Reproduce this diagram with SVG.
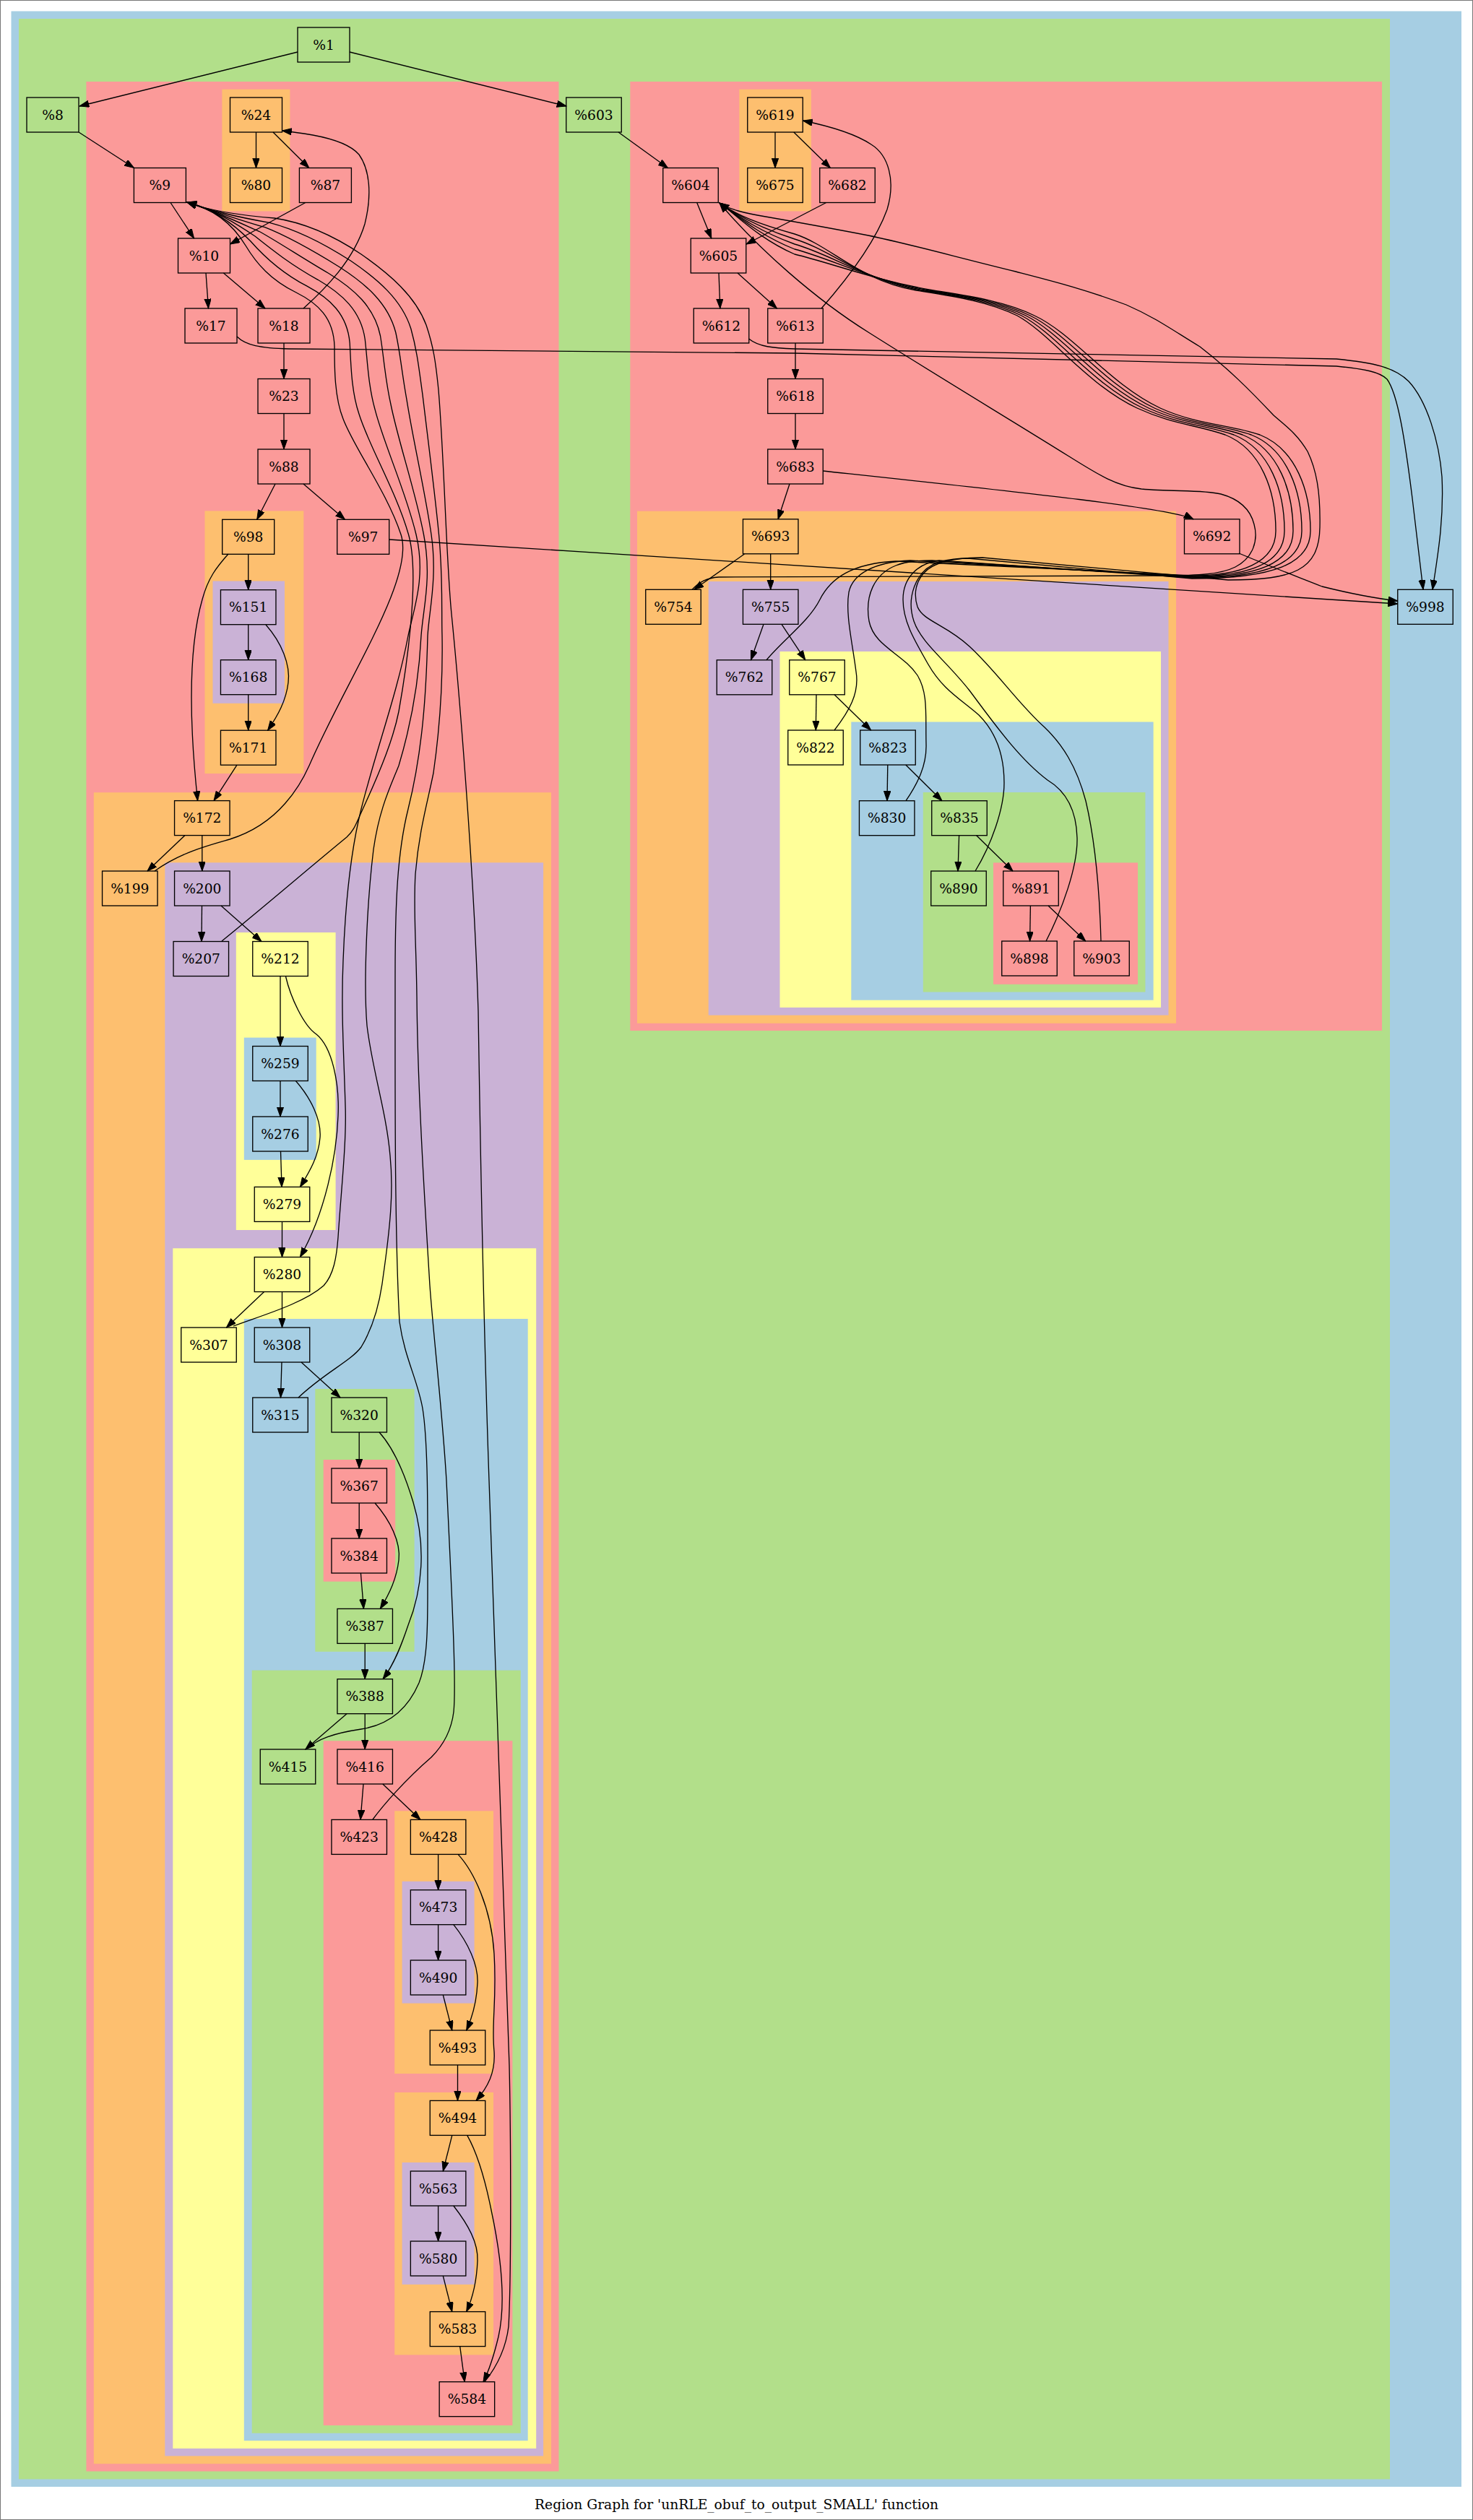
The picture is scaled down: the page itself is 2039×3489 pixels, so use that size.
<svg xmlns="http://www.w3.org/2000/svg" width="2039" height="3489" viewBox="0 0 2039 3489">
<style>
.cg{fill:#b2df8a}.cb{fill:#a6cee3}.cp{fill:#fb9a99}.co{fill:#fdbf6f}.cu{fill:#cab2d6}.cy{fill:#ffff99}
.node rect{stroke:#000;stroke-width:1.33}
.node text,.cap{font-family:"DejaVu Serif","Liberation Serif",serif;font-size:18.67px;text-anchor:middle;fill:#000}
#edges path{fill:none;stroke:#000;stroke-width:1.33;marker-end:url(#ah)}
</style>
<defs>
<marker id="ah" markerUnits="userSpaceOnUse" markerWidth="14" markerHeight="10" refX="13.3" refY="4.67" orient="auto"><path d="M0,0 L13.3,4.67 L0,9.33 z" fill="#000" stroke="#000" stroke-width="1"/></marker>
</defs>
<rect x="0.5" y="0.5" width="2038" height="3488" fill="#fff" stroke="#777" stroke-width="1"/>
<g id="clusters">
<rect class="cb" x="15.5" y="15.5" width="2007.5" height="3427.5"/>
<rect class="cg" x="26" y="26" width="1898" height="3406.5"/>
<rect class="cp" x="119.4" y="113" width="654.1" height="3308.6"/>
<rect class="co" x="307.4" y="123.7" width="94" height="168.7"/>
<rect class="co" x="283.5" y="707.4" width="136.8" height="363.6"/>
<rect class="cu" x="294.5" y="804.5" width="99.5" height="169.3"/>
<rect class="co" x="129.8" y="1097.2" width="633.2" height="2314"/>
<rect class="cu" x="228.3" y="1194.3" width="523.8" height="2206.1"/>
<rect class="cy" x="326.8" y="1291" width="137.8" height="412"/>
<rect class="cb" x="337.8" y="1436.6" width="99.9" height="169.3"/>
<rect class="cy" x="239.3" y="1728.3" width="502.9" height="1661.7"/>
<rect class="cb" x="337.8" y="1826" width="392.9" height="1553.2"/>
<rect class="cg" x="436.3" y="1923" width="137.3" height="363.8"/>
<rect class="cp" x="447.7" y="2021" width="99.5" height="168.7"/>
<rect class="cg" x="348.7" y="2312.6" width="372.1" height="1056.2"/>
<rect class="cp" x="447.7" y="2410.2" width="261.7" height="947.8"/>
<rect class="co" x="546.2" y="2507.3" width="136.8" height="363.7"/>
<rect class="cu" x="556.6" y="2604.8" width="100" height="168.8"/>
<rect class="co" x="546.2" y="2897" width="136.8" height="363.4"/>
<rect class="cu" x="556.6" y="2994" width="100" height="168.9"/>
<rect class="cp" x="872.3" y="113" width="1040.7" height="1314"/>
<rect class="co" x="1023.3" y="123.7" width="99.6" height="168.7"/>
<rect class="co" x="882" y="707.7" width="746" height="709.1"/>
<rect class="cu" x="980.7" y="805" width="636.8" height="600.6"/>
<rect class="cy" x="1079.5" y="902" width="527.5" height="492.9"/>
<rect class="cb" x="1178.3" y="999.5" width="418.3" height="385.2"/>
<rect class="cg" x="1277.8" y="1097" width="307.6" height="276.5"/>
<rect class="cp" x="1375" y="1194.4" width="200" height="168.4"/>
</g>
<g id="nodes">
<g id="n1" class="node"><rect class="cg" x="412" y="38" width="72" height="48"/><text x="448" y="68.5">%1</text></g>
<g id="n8" class="node"><rect class="cg" x="37" y="135" width="72" height="48"/><text x="73" y="165.5">%8</text></g>
<g id="n24" class="node"><rect class="co" x="318.5" y="135" width="72" height="48"/><text x="354.5" y="165.5">%24</text></g>
<g id="n80" class="node"><rect class="co" x="318.5" y="232.5" width="72" height="48"/><text x="354.5" y="263">%80</text></g>
<g id="n9" class="node"><rect class="cp" x="185.4" y="232.5" width="72" height="48"/><text x="221.4" y="263">%9</text></g>
<g id="n87" class="node"><rect class="cp" x="414.4" y="232.5" width="72" height="48"/><text x="450.4" y="263">%87</text></g>
<g id="n10" class="node"><rect class="cp" x="246.5" y="330" width="72" height="48"/><text x="282.5" y="360.5">%10</text></g>
<g id="n17" class="node"><rect class="cp" x="256" y="427" width="72" height="48"/><text x="292" y="457.5">%17</text></g>
<g id="n18" class="node"><rect class="cp" x="357" y="427" width="72" height="48"/><text x="393" y="457.5">%18</text></g>
<g id="n23" class="node"><rect class="cp" x="357" y="524.5" width="72" height="48"/><text x="393" y="555">%23</text></g>
<g id="n88" class="node"><rect class="cp" x="357" y="622" width="72" height="48"/><text x="393" y="652.5">%88</text></g>
<g id="n98" class="node"><rect class="co" x="307.7" y="719.3" width="72" height="48"/><text x="343.7" y="749.8">%98</text></g>
<g id="n97" class="node"><rect class="cp" x="466.7" y="719.3" width="72" height="48"/><text x="502.7" y="749.8">%97</text></g>
<g id="n151" class="node"><rect class="cu" x="305.45" y="816.7" width="76.5" height="48"/><text x="343.7" y="847.2">%151</text></g>
<g id="n168" class="node"><rect class="cu" x="305.45" y="913.7" width="76.5" height="48"/><text x="343.7" y="944.2">%168</text></g>
<g id="n171" class="node"><rect class="co" x="305.45" y="1011.2" width="76.5" height="48"/><text x="343.7" y="1041.7">%171</text></g>
<g id="n172" class="node"><rect class="co" x="241.55" y="1108.6" width="76.5" height="48"/><text x="279.8" y="1139.1">%172</text></g>
<g id="n199" class="node"><rect class="co" x="141.55" y="1206" width="76.5" height="48"/><text x="179.8" y="1236.5">%199</text></g>
<g id="n200" class="node"><rect class="cu" x="241.55" y="1206" width="76.5" height="48"/><text x="279.8" y="1236.5">%200</text></g>
<g id="n207" class="node"><rect class="cu" x="240.05" y="1303.5" width="76.5" height="48"/><text x="278.3" y="1334">%207</text></g>
<g id="n212" class="node"><rect class="cy" x="349.75" y="1303.5" width="76.5" height="48"/><text x="388" y="1334">%212</text></g>
<g id="n259" class="node"><rect class="cb" x="349.75" y="1448.5" width="76.5" height="48"/><text x="388" y="1479">%259</text></g>
<g id="n276" class="node"><rect class="cb" x="349.75" y="1546" width="76.5" height="48"/><text x="388" y="1576.5">%276</text></g>
<g id="n279" class="node"><rect class="cy" x="352.25" y="1643.4" width="76.5" height="48"/><text x="390.5" y="1673.9">%279</text></g>
<g id="n280" class="node"><rect class="cy" x="352.25" y="1740.5" width="76.5" height="48"/><text x="390.5" y="1771">%280</text></g>
<g id="n307" class="node"><rect class="cy" x="250.75" y="1838" width="76.5" height="48"/><text x="289" y="1868.5">%307</text></g>
<g id="n308" class="node"><rect class="cb" x="352.25" y="1838" width="76.5" height="48"/><text x="390.5" y="1868.5">%308</text></g>
<g id="n315" class="node"><rect class="cb" x="349.75" y="1935" width="76.5" height="48"/><text x="388" y="1965.5">%315</text></g>
<g id="n320" class="node"><rect class="cg" x="458.95" y="1935" width="76.5" height="48"/><text x="497.2" y="1965.5">%320</text></g>
<g id="n367" class="node"><rect class="cp" x="458.95" y="2033" width="76.5" height="48"/><text x="497.2" y="2063.5">%367</text></g>
<g id="n384" class="node"><rect class="cp" x="458.95" y="2130" width="76.5" height="48"/><text x="497.2" y="2160.5">%384</text></g>
<g id="n387" class="node"><rect class="cg" x="466.95" y="2227.4" width="76.5" height="48"/><text x="505.2" y="2257.9">%387</text></g>
<g id="n388" class="node"><rect class="cg" x="466.95" y="2324.7" width="76.5" height="48"/><text x="505.2" y="2355.2">%388</text></g>
<g id="n415" class="node"><rect class="cg" x="360.25" y="2422" width="76.5" height="48"/><text x="398.5" y="2452.5">%415</text></g>
<g id="n416" class="node"><rect class="cp" x="466.95" y="2422" width="76.5" height="48"/><text x="505.2" y="2452.5">%416</text></g>
<g id="n423" class="node"><rect class="cp" x="458.95" y="2519.4" width="76.5" height="48"/><text x="497.2" y="2549.9">%423</text></g>
<g id="n428" class="node"><rect class="co" x="568.35" y="2519.4" width="76.5" height="48"/><text x="606.6" y="2549.9">%428</text></g>
<g id="n473" class="node"><rect class="cu" x="568.35" y="2616.7" width="76.5" height="48"/><text x="606.6" y="2647.2">%473</text></g>
<g id="n490" class="node"><rect class="cu" x="568.35" y="2714" width="76.5" height="48"/><text x="606.6" y="2744.5">%490</text></g>
<g id="n493" class="node"><rect class="co" x="595.25" y="2811" width="76.5" height="48"/><text x="633.5" y="2841.5">%493</text></g>
<g id="n494" class="node"><rect class="co" x="595.25" y="2908.4" width="76.5" height="48"/><text x="633.5" y="2938.9">%494</text></g>
<g id="n563" class="node"><rect class="cu" x="568.35" y="3006" width="76.5" height="48"/><text x="606.6" y="3036.5">%563</text></g>
<g id="n580" class="node"><rect class="cu" x="568.35" y="3103" width="76.5" height="48"/><text x="606.6" y="3133.5">%580</text></g>
<g id="n583" class="node"><rect class="co" x="595.25" y="3200.6" width="76.5" height="48"/><text x="633.5" y="3231.1">%583</text></g>
<g id="n584" class="node"><rect class="cp" x="608.15" y="3297.7" width="76.5" height="48"/><text x="646.4" y="3328.2">%584</text></g>
<g id="n603" class="node"><rect class="cg" x="783.75" y="135" width="76.5" height="48"/><text x="822" y="165.5">%603</text></g>
<g id="n619" class="node"><rect class="co" x="1034.75" y="135" width="76.5" height="48"/><text x="1073" y="165.5">%619</text></g>
<g id="n604" class="node"><rect class="cp" x="917.75" y="232.5" width="76.5" height="48"/><text x="956" y="263">%604</text></g>
<g id="n675" class="node"><rect class="co" x="1034.75" y="232.5" width="76.5" height="48"/><text x="1073" y="263">%675</text></g>
<g id="n682" class="node"><rect class="cp" x="1134.75" y="232.5" width="76.5" height="48"/><text x="1173" y="263">%682</text></g>
<g id="n605" class="node"><rect class="cp" x="956.25" y="330" width="76.5" height="48"/><text x="994.5" y="360.5">%605</text></g>
<g id="n612" class="node"><rect class="cp" x="960.25" y="427" width="76.5" height="48"/><text x="998.5" y="457.5">%612</text></g>
<g id="n613" class="node"><rect class="cp" x="1062.75" y="427" width="76.5" height="48"/><text x="1101" y="457.5">%613</text></g>
<g id="n618" class="node"><rect class="cp" x="1062.75" y="524.5" width="76.5" height="48"/><text x="1101" y="555">%618</text></g>
<g id="n683" class="node"><rect class="cp" x="1062.75" y="622" width="76.5" height="48"/><text x="1101" y="652.5">%683</text></g>
<g id="n693" class="node"><rect class="co" x="1028.45" y="718.8" width="76.5" height="48"/><text x="1066.7" y="749.3">%693</text></g>
<g id="n692" class="node"><rect class="cp" x="1639.45" y="718.8" width="76.5" height="48"/><text x="1677.7" y="749.3">%692</text></g>
<g id="n754" class="node"><rect class="co" x="893.75" y="816.3" width="76.5" height="48"/><text x="932" y="846.8">%754</text></g>
<g id="n755" class="node"><rect class="cu" x="1028.45" y="816.3" width="76.5" height="48"/><text x="1066.7" y="846.8">%755</text></g>
<g id="n998" class="node"><rect class="cb" x="1934.75" y="816.3" width="76.5" height="48"/><text x="1973" y="846.8">%998</text></g>
<g id="n762" class="node"><rect class="cu" x="992.25" y="913.8" width="76.5" height="48"/><text x="1030.5" y="944.3">%762</text></g>
<g id="n767" class="node"><rect class="cy" x="1092.75" y="913.8" width="76.5" height="48"/><text x="1131" y="944.3">%767</text></g>
<g id="n822" class="node"><rect class="cy" x="1090.75" y="1011" width="76.5" height="48"/><text x="1129" y="1041.5">%822</text></g>
<g id="n823" class="node"><rect class="cb" x="1190.75" y="1011" width="76.5" height="48"/><text x="1229" y="1041.5">%823</text></g>
<g id="n830" class="node"><rect class="cb" x="1189.45" y="1108.7" width="76.5" height="48"/><text x="1227.7" y="1139.2">%830</text></g>
<g id="n835" class="node"><rect class="cg" x="1289.75" y="1108.7" width="76.5" height="48"/><text x="1328" y="1139.2">%835</text></g>
<g id="n890" class="node"><rect class="cg" x="1288.75" y="1206" width="76.5" height="48"/><text x="1327" y="1236.5">%890</text></g>
<g id="n891" class="node"><rect class="cp" x="1388.75" y="1206" width="76.5" height="48"/><text x="1427" y="1236.5">%891</text></g>
<g id="n898" class="node"><rect class="cp" x="1386.75" y="1303" width="76.5" height="48"/><text x="1425" y="1333.5">%898</text></g>
<g id="n903" class="node"><rect class="cp" x="1486.75" y="1303" width="76.5" height="48"/><text x="1525" y="1333.5">%903</text></g>
</g>
<g id="edges">
<path d="M412,72 L110,147"/>
<path d="M484,72 L784,147"/>
<path d="M109,183 L185.5,232.5"/>
<path d="M856,183 L924.5,232.5"/>
<path d="M236,280.5 L268.6,330"/>
<path d="M354.5,183 L354.5,232.5"/>
<path d="M378,183 L427.8,232.5"/>
<path d="M422.8,280.5 L318.5,338"/>
<path d="M285,378 L288.5,427"/>
<path d="M309.4,378 L367,427"/>
<path d="M393,475 L393,524.5"/>
<path d="M393,572.5 L393,622"/>
<path d="M381,670 L355.7,719.3"/>
<path d="M420,670 L477.5,719.3"/>
<path d="M343.7,767.3 L343.7,816.7"/>
<path d="M316,767 C300,785 288,800 280,830 C260,900 262,1000 273.6,1108.6"/>
<path d="M343.7,864.7 L343.7,913.7"/>
<path d="M368,865 C390,890 402,920 399,945 C396,970 385,990 370.6,1011.2"/>
<path d="M343.7,961.7 L343.7,1011.2"/>
<path d="M328,1059.2 L296,1108.6"/>
<path d="M256,1156.6 L204,1206"/>
<path d="M279.8,1156.6 L279.8,1206"/>
<path d="M279.5,1254 L279,1303.5"/>
<path d="M306,1254 L362,1303.5"/>
<path d="M388,1351.5 L388,1448.5"/>
<path d="M395.5,1352 C402,1380 420,1420 438,1432 C460,1450 470,1500 468,1545 C466,1600 450,1680 415.4,1740.5"/>
<path d="M388,1496.5 L388,1546"/>
<path d="M409.4,1496.5 C430,1520 445,1550 443,1575 C441,1600 430,1620 415.4,1643.4"/>
<path d="M388.5,1594 L390,1643.4"/>
<path d="M390.5,1691.4 L390.5,1740.5"/>
<path d="M365.6,1788.5 L313.4,1838"/>
<path d="M390.5,1788.5 L390.5,1838"/>
<path d="M390,1886 L388.5,1935"/>
<path d="M417,1886 L471,1935"/>
<path d="M497.2,1983 L497.2,2033"/>
<path d="M525,1983 C545,2005 560,2040 572,2080 C590,2140 585,2200 565,2250 C555,2280 545,2305 530,2324.7"/>
<path d="M497.2,2081 L497.2,2130"/>
<path d="M519,2081 C540,2105 555,2135 552,2160 C549,2185 540,2205 526.3,2227.4"/>
<path d="M499.4,2178 L503.4,2227.4"/>
<path d="M505.2,2275.4 L505.2,2324.7"/>
<path d="M480,2372.7 L422.8,2422"/>
<path d="M505.2,2372.7 L505.2,2422"/>
<path d="M503,2470 L499,2519.4"/>
<path d="M529.8,2470 L582,2519.4"/>
<path d="M606.6,2567.4 L606.6,2616.7"/>
<path d="M634,2567.4 C655,2590 680,2640 684,2705 C688,2770 680,2800 684,2840 C686,2870 675,2890 659,2908.4"/>
<path d="M606.6,2664.7 L606.6,2714"/>
<path d="M627.8,2664.7 C648,2690 662,2720 661,2745 C660,2770 655,2790 645.7,2811"/>
<path d="M613.3,2762 L625.8,2811"/>
<path d="M633.5,2859 L633.5,2908.4"/>
<path d="M625.8,2956.4 L613.3,3006"/>
<path d="M646.7,2956.4 C660,2980 670,3010 680,3060 C695,3130 700,3190 690,3235 C684,3260 678,3280 669,3297.7"/>
<path d="M606.6,3054 L606.6,3103"/>
<path d="M627.8,3054 C648,3080 662,3105 661,3130 C660,3155 655,3180 645.7,3200.6"/>
<path d="M613.3,3151 L625.8,3200.6"/>
<path d="M636.7,3248.6 L643.2,3297.7"/>
<path d="M420,427 C450,400 490,360 505,310 C515,270 512,235 497,214 C485,200 460,192 433,187 C415,184 400,182 390.5,181"/>
<path d="M328,466 C340,478 360,482 400,483 L1100,489 L1850,507 C1890,511 1910,515 1920,525 C1935,545 1945,610 1955,690 C1962,750 1967,790 1970,816.3"/>
<path d="M539,747 L1934.7,836"/>
<path d="M214,1206 C250,1180 290,1170 318,1162 C350,1152 375,1135 395,1112 C410,1095 420,1078 428,1060 C480,940 575,800 555,740 C535,680 490,620 475,580 C463,550 463,510 463,480 C462,440 440,420 410,405 C375,388 355,365 340,340 C325,315 300,290 259,280"/>
<path d="M307,1303 C360,1260 430,1200 480,1159 C490,1150 493,1140 500,1125 C530,1060 545,1020 552,985 C560,940 582.7,800 565.5,740 C548.3,680 510.3,616.7 497,573.3 C486.3,541.7 485.8,505 484.2,475 C480.8,435 456.7,413.3 425,396.2 C389.2,377.5 365.8,355.5 346.7,333.7 C325.8,312.2 298.3,290.3 259,280"/>
<path d="M323,1836 C360,1822 420,1805 448,1780 C462,1765 466,1740 468,1713 C472,1650 480,1580 478,1530 C476,1460 472,1400 475,1330 C478,1250 485,1180 500,1120 C520,1040 550,960 565,880 C572,845 590.3,800 576,740 C561.7,680 530.7,613.3 519,566.7 C509.7,533.3 508.7,500 505.3,470 C499.7,430 473.3,406.7 440,387.3 C403.3,367 376.7,346 353.3,327.3 C326.7,309.3 296.7,290.7 259,280"/>
<path d="M413,1935 C450,1900 485,1885 500,1865 C515,1840 525,1810 530,1770 C540,1700 545,1650 540,1600 C535,1540 515,1480 508,1420 C503,1360 508,1250 517,1176 C525,1120 540,1090 552,1060 C570,1000 580,940 583,880 C586,840 598,800 586.5,740 C575,680 551,610 541,560 C533,525 531.5,495 526.5,465 C518.5,425 490,400 455,378.5 C417.5,356.5 387.5,336.5 360,321 C327.5,306.5 295,291 259,280"/>
<path d="M425,2421 C440,2408 460,2400 500,2394 C540,2388 565,2365 580,2330 C592,2300 592,2250 592,2200 C592,2100 593,2000 585,1950 C578,1910 560,1880 553,1830 C546,1700 547,1500 547,1350 C547,1250 550,1180 565,1120 C585,1040 590,960 592,880 C594,845 605.7,800 597,740 C588.3,680 571.3,606.7 563,553.3 C556.3,516.7 554.3,490 547.7,460 C537.3,420 506.7,393.3 470,369.7 C431.7,346 398.3,327 366.7,314.7 C328.3,303.7 293.3,291.3 259,280"/>
<path d="M516,2519 C530,2500 560,2465 597,2433 C615,2415 625,2395 628,2370 C632,2330 625,2200 618,2050 C612,1950 600,1850 595,1780 C587,1650 578,1500 577,1380 C576,1300 572,1260 575,1210 C580,1150 592,1110 600,1070 C610,1000 613,940 612,880 C611,845 613.3,800 607.5,740 C601.7,680 591.7,603.3 585,546.7 C579.7,508.3 577.2,485 568.8,455 C556.2,415 523.3,386.7 485,360.8 C445.8,335.5 409.2,317.5 373.3,308.3 C329.2,300.8 291.7,291.7 259,280"/>
<path d="M671,3297.7 C685,3280 700,3255 704,3221 C708,3150 707,2950 705,2860 C702,2700 690,2400 677,2050 C670,1850 665,1600 662,1400 C656,1200 635,950 625,850 C622,820 621,800 618,740 C615,680 612,600 607,540 C603,500 600,480 590,450 C575,410 540,380 500,352 C460,325 420,308 380,302 C330,298 290,292 259,280"/>
<path d="M964.7,280.5 L984.8,330"/>
<path d="M1073,183 L1073,232.5"/>
<path d="M1098.8,183 L1149.4,232.5"/>
<path d="M1143.7,280.5 L1033,338"/>
<path d="M995,378 L996.8,427"/>
<path d="M1021,378 L1075.5,427"/>
<path d="M1101,475 L1101,524.5"/>
<path d="M1101,572.5 L1101,622"/>
<path d="M1093,670 L1077,718.8"/>
<path d="M1139.3,652 C1400,680 1620,703 1652,718.8"/>
<path d="M1715,766 C1760,785 1800,800 1830,812 C1870,822 1900,828 1934.7,832"/>
<path d="M1030.5,767 L960.7,816.3"/>
<path d="M1066.7,767 L1066.7,816.3"/>
<path d="M1057,864.3 L1039.4,913.8"/>
<path d="M1082,864.3 L1114.8,913.8"/>
<path d="M1130,961.8 L1129.3,1011"/>
<path d="M1155,961.8 L1205.6,1011"/>
<path d="M1228.8,1059 L1228,1108.7"/>
<path d="M1253.8,1059 L1304,1108.7"/>
<path d="M1327.6,1156.7 L1326,1206"/>
<path d="M1351.7,1156.7 L1402,1206"/>
<path d="M1426.4,1254 L1425.6,1303"/>
<path d="M1451,1254 L1502.7,1303"/>
<path d="M1036.5,469 C1050,480 1070,482 1100,483 L1850,497 C1900,502 1930,508 1950,528 C1975,555 1992,610 1996,660 C1999,720 1990,770 1983,816.3"/>
<path d="M1137,427 C1165,395 1210,340 1228,290 C1240,250 1230,215 1206,200 C1185,186 1150,175 1111.3,167"/>
<path d="M958,816.3 C968,806 978,800 995,799 L1610,797 C1660,797 1690,795 1710,785 C1735,772 1742,748 1736,726 C1730,702 1712,690 1690,684 C1665,678 1625,681 1580,677 C1545,673 1520,657 1480,632 C1400,582 1300,522 1202,460 C1130,415 1050,345 996,281"/>
<path d="M1061,913.8 C1085,885 1120,860 1135,830 C1150,800 1180,780 1240,777 L1650,797 C1716,797 1766,780 1766,735 C1766,680 1746,622 1696,602 C1656,588 1624,588 1574,565 C1504,532 1454,462 1408,437 C1368,417 1318,410 1268,402 C1188,388 1150,340 1100,324 C1050,310 1020,298 996,281"/>
<path d="M1155,1011 C1175,985 1190,960 1185,930 C1180,890 1170,850 1175,820 C1180,795 1210,778 1260,776 L1650,798 C1728,798 1778,780 1778,735 C1778,680 1758,622 1708,602 C1668,588 1632,588 1582,565 C1512,532 1462,462 1414,437 C1374,417 1324,410 1274,402 C1194,388 1150,346 1100,331 C1050,315 1020,298 996,281"/>
<path d="M1254,1108.7 C1270,1085 1283,1060 1282,1030 C1281,990 1285,960 1270,935 C1250,905 1210,895 1203,860 C1197,825 1210,795 1240,783 C1255,777 1270,776 1290,776 L1650,799 C1740,799 1790,780 1790,735 C1790,680 1770,622 1720,602 C1680,588 1640,588 1590,565 C1520,532 1470,462 1420,437 C1380,417 1330,410 1280,402 C1200,388 1150,352 1100,338 C1050,320 1020,298 996,281"/>
<path d="M1350,1206 C1372,1170 1390,1120 1390,1084 C1390,1040 1375,1010 1355,990 C1330,968 1305,955 1285,920 C1265,885 1250,860 1250,830 C1250,800 1270,780 1300,776 L1650,800 C1752,800 1802,780 1802,735 C1802,680 1782,622 1732,602 C1692,588 1648,588 1598,565 C1528,532 1478,462 1426,437 C1386,417 1336,410 1286,402 C1206,388 1150,358 1100,345 C1050,325 1020,298 996,281"/>
<path d="M1448,1303 C1470,1260 1492,1200 1491,1160 C1490,1120 1475,1095 1450,1080 C1410,1050 1375,1000 1342,956 C1310,915 1275,890 1265,860 C1255,830 1265,790 1300,778 C1320,773 1330,773 1340,773 L1650,801 C1764,801 1814,780 1814,735 C1814,680 1794,622 1744,602 C1704,588 1656,588 1606,565 C1536,532 1486,462 1432,437 C1392,417 1342,410 1292,402 C1212,388 1150,364 1100,352 C1050,330 1020,298 996,281"/>
<path d="M1524,1303 C1522,1230 1515,1160 1503,1109 C1490,1060 1470,1030 1446,1007 C1410,975 1380,930 1342,895 C1310,865 1278,860 1270,840 C1262,815 1272,790 1300,780 C1320,773 1340,772 1360,772 L1700,803 C1790,803 1826,790 1827,730 C1828,680 1822,650 1810,625 C1795,600 1780,590 1763,575 C1730,540 1700,510 1661,480 C1620,455 1600,440 1559,422 C1500,400 1460,390 1406,376 C1320,355 1260,338 1202,326 C1140,314 1100,307 1060,300 C1030,295 1010,290 996,281"/>
</g>
<text class="cap" x="1019.5" y="3474">Region Graph for 'unRLE_obuf_to_output_SMALL' function</text>
</svg>
